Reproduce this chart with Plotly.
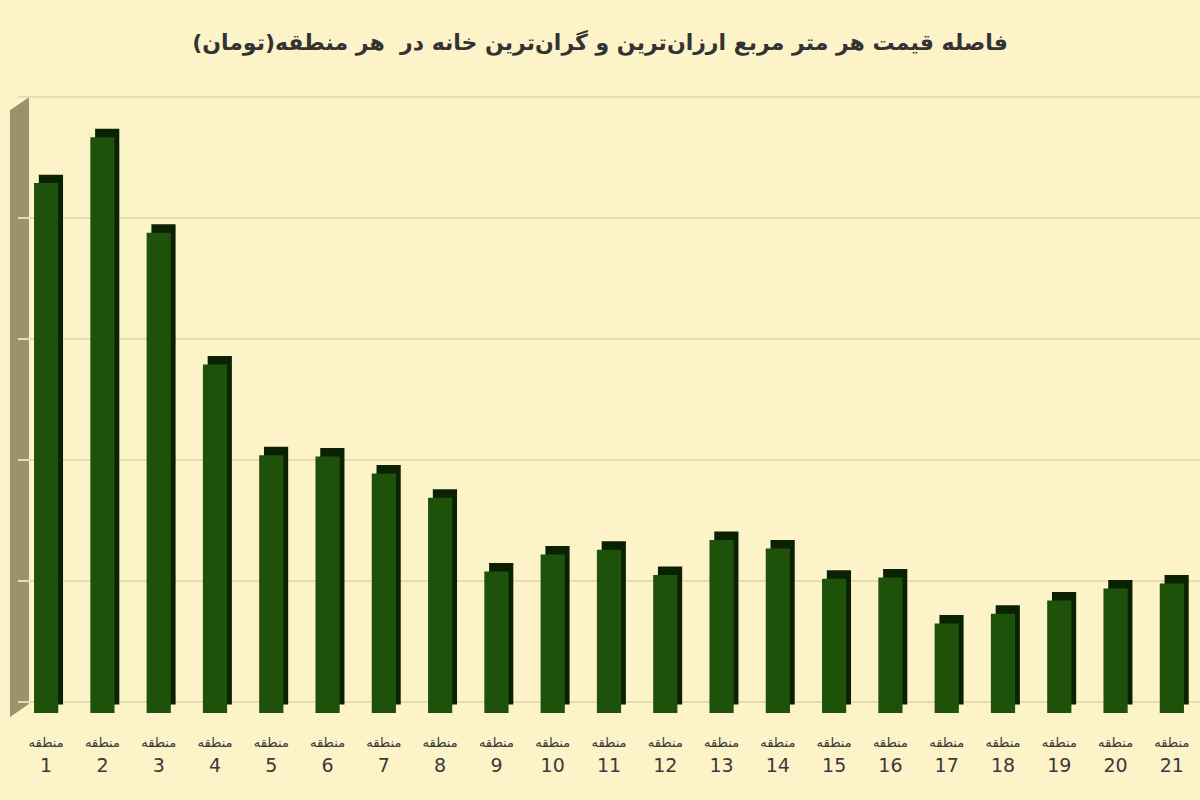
import plotly.graph_objects as go

# values (units of the chart's gridline step)
regions = [str(i) for i in range(1, 22)]
price_gap = [4.38, 4.76, 3.97, 2.88, 2.13, 2.12, 1.98, 1.78, 1.17, 1.31, 1.35,
             1.14, 1.43, 1.36, 1.11, 1.12, 0.74, 0.82, 0.93, 1.03, 1.07]
tick_labels = ["<span style='font-size:13px'>منطقه</span><br>" + r for r in regions]

title = "<b>فاصله قیمت هر متر مربع ارزان‌ترین و گران‌ترین خانه در  هر منطقه(تومان)</b>"

bg = "#fdf3c8"
depth = 0.07  # fake 3d depth in y units

fig = go.Figure()

# dark side/top face, sits slightly behind and to the right of the front face
fig.add_trace(go.Bar(
    x=regions, y=price_gap, base=[depth] * len(regions),
    width=0.43, offset=-0.13,
    marker=dict(color="#0a2202", line=dict(width=0)),
    hoverinfo="skip", showlegend=False))

# front face
fig.add_trace(go.Bar(
    x=regions, y=price_gap,
    width=0.43, offset=-0.215,
    marker=dict(color="#1e520a", line=dict(width=0)),
    showlegend=False))

fig.update_layout(
    width=1200, height=800,
    paper_bgcolor=bg, plot_bgcolor=bg,
    barmode="overlay",
    margin=dict(l=18, r=0, t=96, b=87),
    title=dict(text=title, x=0.5, xanchor="center", y=0.947, yanchor="middle",
               font=dict(family="DejaVu Sans", size=22, color="#333333")),
    font=dict(family="DejaVu Sans", color="#3a3a3a"),
    xaxis=dict(
        type="category", range=[-0.5, 20.5],
        tickmode="array", tickvals=regions, ticktext=tick_labels,
        tickfont=dict(size=19, color="#3a3a3a"), ticklabelstandoff=14,
        showgrid=False, zeroline=False, showline=False, ticks=""),
    yaxis=dict(
        range=[0, 5.1], tick0=0.09, dtick=1,
        showticklabels=False, showgrid=True, gridcolor="#e6dab0", gridwidth=2,
        zeroline=False, showline=False),
)

# left side wall of the 3d box
fig.add_shape(type="path", xref="paper", yref="paper",
              path="M -0.0068,-0.0065 L 0.0093,0.0146 L 0.0093,0.998 L -0.0068,0.977 Z",
              fillcolor="#9d906c", line=dict(width=0), layer="below")

fig.write_html("out.html", config={"displayModeBar": False},
               post_script="document.body.style.margin='0';")
